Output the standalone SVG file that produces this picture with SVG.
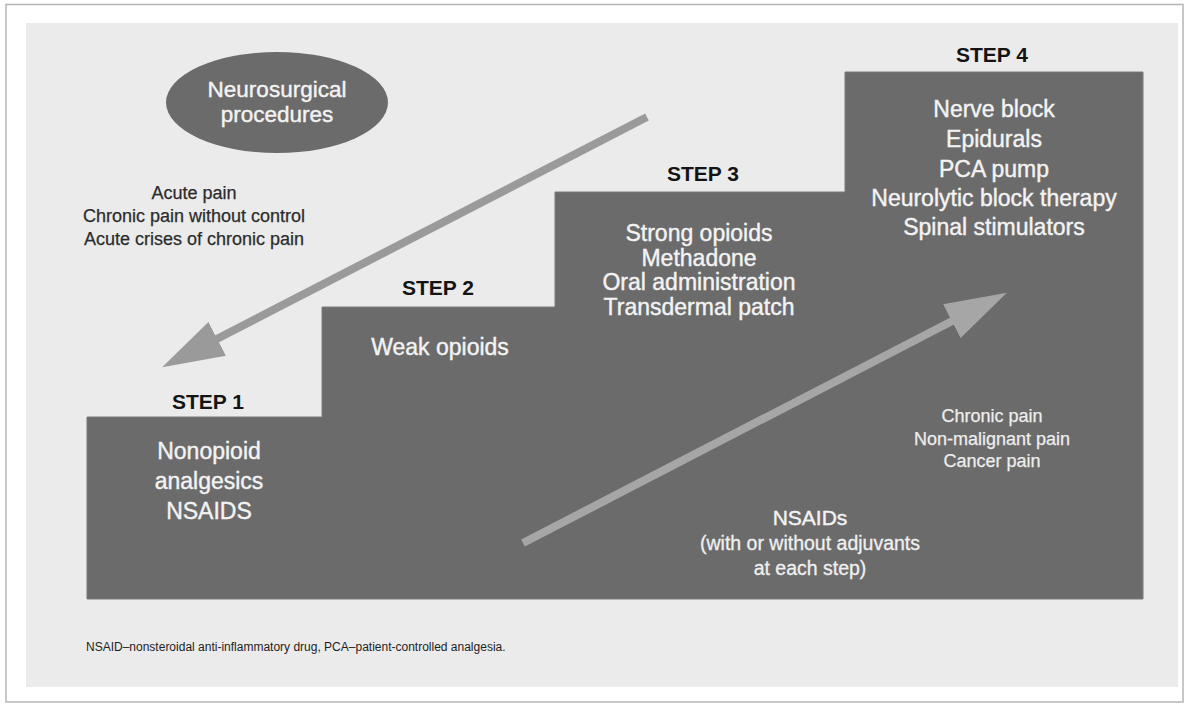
<svg xmlns="http://www.w3.org/2000/svg" width="1184" height="704" viewBox="0 0 1184 704">
  <defs>
    <style>
      text { font-family: "Liberation Sans", Arial, sans-serif; text-anchor: middle; }
      .lbl { font-size: 21px; font-weight: bold; fill: #141414; }
      .inv { font-size: 23px; fill: #f3f3f3; stroke: #f3f3f3; stroke-width: 0.4; }
      .ell { font-size: 22.5px; fill: #f3f3f3; stroke: #f3f3f3; stroke-width: 0.4; }
      .lst { font-size: 18px; fill: #2b2b2b; stroke: #2b2b2b; stroke-width: 0.25; }
      .lsti { font-size: 18px; fill: #eeeeee; stroke: #eeeeee; stroke-width: 0.25; }
      .nsa { font-size: 19.5px; fill: #f0f0f0; stroke: #f0f0f0; stroke-width: 0.3; }
      .foot { font-size: 12px; fill: #1e1e1e; text-anchor: start; }
      .shaft { fill: none; stroke-width: 8; stroke-linecap: butt; }
    </style>
    <marker id="headDown" markerUnits="userSpaceOnUse" viewBox="0 0 62 38" refX="7" refY="19" markerWidth="62" markerHeight="38" orient="auto">
      <path d="M0,0 L62,19 L0,38 Z" fill="#9a9a9a"/>
    </marker>
    <marker id="headUp" markerUnits="userSpaceOnUse" viewBox="0 0 62 38" refX="7" refY="19" markerWidth="62" markerHeight="38" orient="auto">
      <path d="M0,0 L62,19 L0,38 Z" fill="#a6a6a6"/>
    </marker>
  </defs>

  <!-- frame -->
  <rect x="0" y="0" width="1184" height="704" fill="#ffffff"/>
  <rect x="6" y="4.5" width="1177" height="697.5" fill="#ffffff" stroke="#b5b5b5" stroke-width="1.5"/>
  <rect x="26" y="23" width="1152" height="664" fill="#ebebeb"/>

  <!-- staircase -->
  <g id="stairs">
    <polygon points="87,599 87,417 322,417 322,307 555,307 555,192 845,192 845,72 1143,72 1143,599" fill="#6b6b6b" stroke="#7a7a7a" stroke-width="1"/>
  </g>

  <g id="neurosurgical">
    <ellipse cx="277" cy="102.5" rx="111" ry="50.5" fill="#6b6b6b"/>
    <text class="ell" x="277" y="97">Neurosurgical</text>
    <text class="ell" x="277" y="122">procedures</text>
  </g>

  <g id="acute-list">
    <text class="lst" x="194" y="199">Acute pain</text>
    <text class="lst" x="194" y="222">Chronic pain without control</text>
    <text class="lst" x="194" y="245">Acute crises of chronic pain</text>
  </g>

  <g id="step1">
    <text class="lbl" x="208" y="409">STEP 1</text>
    <text class="inv" x="209" y="459">Nonopioid</text>
    <text class="inv" x="209" y="489">analgesics</text>
    <text class="inv" x="209" y="519">NSAIDS</text>
  </g>

  <g id="step2">
    <text class="lbl" x="438" y="295">STEP 2</text>
    <text class="inv" x="440" y="355">Weak opioids</text>
  </g>

  <g id="step3">
    <text class="lbl" x="703" y="181">STEP 3</text>
    <text class="inv" x="699" y="241">Strong opioids</text>
    <text class="inv" x="699" y="266">Methadone</text>
    <text class="inv" x="699" y="290">Oral administration</text>
    <text class="inv" x="699" y="315">Transdermal patch</text>
  </g>

  <g id="step4">
    <text class="lbl" x="992" y="62">STEP 4</text>
    <text class="inv" x="994" y="117">Nerve block</text>
    <text class="inv" x="994" y="147">Epidurals</text>
    <text class="inv" x="994" y="177">PCA pump</text>
    <text class="inv" x="994" y="206">Neurolytic block therapy</text>
    <text class="inv" x="994" y="235">Spinal stimulators</text>
  </g>

  <g id="chronic-list">
    <text class="lsti" x="992" y="422">Chronic pain</text>
    <text class="lsti" x="992" y="445">Non-malignant pain</text>
    <text class="lsti" x="992" y="467">Cancer pain</text>
  </g>

  <g id="nsaids">
    <text class="inv" x="810" y="525" style="font-size:21px">NSAIDs</text>
    <text class="nsa" x="810" y="550">(with or without adjuvants</text>
    <text class="nsa" x="810" y="575">at each step)</text>
  </g>

  <g id="connectors">
    <line class="shaft" x1="647" y1="117" x2="211" y2="342" stroke="#9a9a9a" marker-end="url(#headDown)"/>
    <line class="shaft" x1="523" y1="543" x2="958" y2="318" stroke="#a6a6a6" marker-end="url(#headUp)"/>
  </g>

  <g id="footnote">
    <text class="foot" x="86" y="651">NSAID–nonsteroidal anti-inflammatory drug, PCA–patient-controlled analgesia.</text>
  </g>
</svg>
